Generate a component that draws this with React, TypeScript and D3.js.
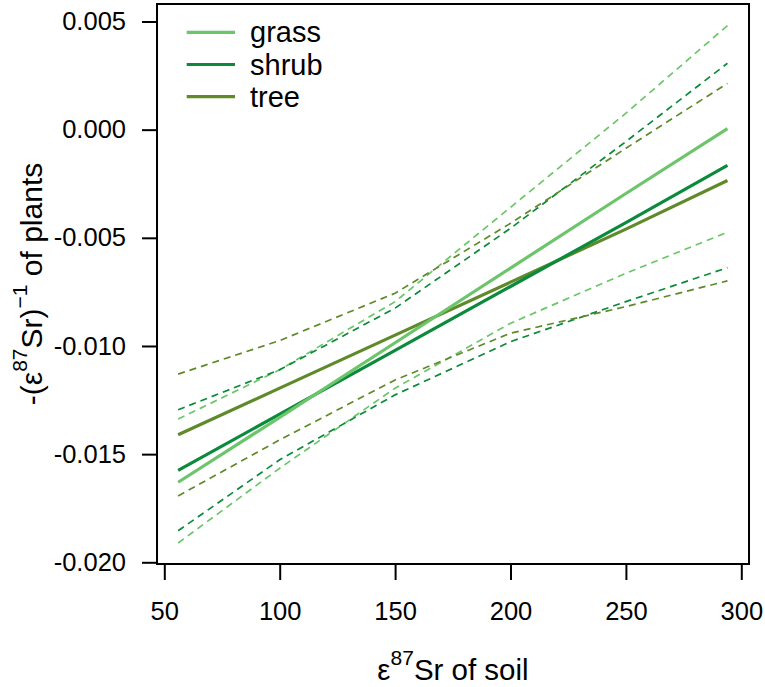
import React, { useEffect, useRef } from "react";
import * as d3 from "d3";

// soil epsilon 87Sr grid where the fitted curves were read
const soilSr = [56, 100, 150, 200, 250, 294];

// fitted -(e87Sr)^-1 of plants
const grassFit = [-0.0163, -0.0133, -0.00985, -0.0064, -0.00295, 0.00005];
const shrubFit = [-0.01575, -0.01315, -0.0102, -0.00725, -0.0043, -0.00165];
const treeFit = [-0.0141, -0.01195, -0.0095, -0.00705, -0.0046, -0.00235];

// confidence bands
const grassUpper = [-0.01338, -0.0111, -0.00795, -0.00359, 0.00076, 0.00481];
const grassLower = [-0.01911, -0.01565, -0.01195, -0.00895, -0.00664, -0.00474];
const shrubUpper = [-0.01295, -0.0111, -0.00825, -0.00456, -0.00055, 0.00307];
const shrubLower = [-0.01854, -0.01526, -0.01226, -0.0098, -0.00795, -0.00638];
const treeUpper = [-0.0113, -0.00975, -0.00756, -0.00433, -0.00086, 0.00214];
const treeLower = [-0.01693, -0.01434, -0.01157, -0.00941, -0.00818, -0.00699];

const groups = ["grass", "shrub", "tree"];
const colors = ["#6cc56a", "#0c8a3c", "#5f8a2a"];

const xTicks = [50, 100, 150, 200, 250, 300];
const yTicks = [0.005, 0, -0.005, -0.01, -0.015, -0.02];

const width = 765;
const height = 687;
const box = { left: 157, right: 749, top: 4, bottom: 564 };
const font = "'Liberation Sans', Arial, sans-serif";

const App: React.FC = () => {
  const svgRef = useRef<SVGSVGElement>(null);

  useEffect(() => {
    const svg = d3.select(svgRef.current);
    svg.selectAll("*").remove();

    const x = d3.scaleLinear().domain([50, 300]).range([164.3, 741.3]);
    const y = d3.scaleLinear().domain([-0.02, 0.005]).range([562.3, 21.5]);

    const line = d3
      .line<number>()
      .x((_, i) => x(soilSr[i]))
      .y((d) => y(d));

    const series = [
      { fit: grassFit, up: grassUpper, lo: grassLower, color: colors[0] },
      { fit: shrubFit, up: shrubUpper, lo: shrubLower, color: colors[1] },
      { fit: treeFit, up: treeUpper, lo: treeLower, color: colors[2] },
    ];

    // dashed bands
    series.forEach((s) => {
      [s.up, s.lo].forEach((band) => {
        svg
          .append("path")
          .attr("d", line(band))
          .attr("fill", "none")
          .attr("stroke", s.color)
          .attr("stroke-width", 1.7)
          .attr("stroke-dasharray", "7,5");
      });
    });

    // fitted lines
    [series[2], series[1], series[0]].forEach((s) => {
      svg
        .append("path")
        .attr("d", line(s.fit))
        .attr("fill", "none")
        .attr("stroke", s.color)
        .attr("stroke-width", 3.2);
    });

    // frame
    svg
      .append("rect")
      .attr("x", box.left)
      .attr("y", box.top)
      .attr("width", box.right - box.left)
      .attr("height", box.bottom - box.top)
      .attr("fill", "none")
      .attr("stroke", "#000")
      .attr("stroke-width", 2);

    // x axis
    const xAxis = d3
      .axisBottom(x)
      .tickValues(xTicks)
      .tickSize(16)
      .tickPadding(22)
      .tickFormat(d3.format("d"));
    svg
      .append("g")
      .attr("transform", `translate(0,${box.bottom})`)
      .call(xAxis)
      .call((g) => g.select(".domain").remove())
      .call((g) => g.selectAll("line").attr("stroke", "#000").attr("stroke-width", 2))
      .call((g) =>
        g
          .selectAll("text")
          .attr("fill", "#000")
          .style("font-family", font)
          .style("font-size", "25.5px")
      );

    // y axis
    const yAxis = d3
      .axisLeft(y)
      .tickValues(yTicks)
      .tickSize(15)
      .tickPadding(16)
      .tickFormat((d) => d3.format(".3f")(d as number).replace("−", "-"));
    svg
      .append("g")
      .attr("transform", `translate(${box.left},0)`)
      .call(yAxis)
      .call((g) => g.select(".domain").remove())
      .call((g) => g.selectAll("line").attr("stroke", "#000").attr("stroke-width", 2))
      .call((g) =>
        g
          .selectAll("text")
          .attr("fill", "#000")
          .style("font-family", font)
          .style("font-size", "25.5px")
      );

    // x title
    const xt = svg
      .append("text")
      .attr("x", (box.left + box.right) / 2)
      .attr("y", 680)
      .attr("text-anchor", "middle")
      .style("font-family", font)
      .style("font-size", "29.5px");
    xt.append("tspan").text("ε");
    xt.append("tspan").attr("dy", -15).style("font-size", "21px").text("87");
    xt.append("tspan").attr("dy", 15).text("Sr of soil");

    // y title
    const yt = svg
      .append("text")
      .attr("transform", `translate(42,${(box.top + box.bottom) / 2}) rotate(-90)`)
      .attr("text-anchor", "middle")
      .style("font-family", font)
      .style("font-size", "30px");
    yt.append("tspan").text("-(ε");
    yt.append("tspan").attr("dy", -15).style("font-size", "21px").text("87");
    yt.append("tspan").attr("dy", 15).text("Sr)");
    yt.append("tspan").attr("dy", -15).style("font-size", "21px").text("−1");
    yt.append("tspan").attr("dy", 15).text(" of plants");

    // legend
    const legend = svg.append("g");
    groups.forEach((g, i) => {
      const ly = 32.3 + i * 32.2;
      legend
        .append("line")
        .attr("x1", 186.7)
        .attr("x2", 235)
        .attr("y1", ly)
        .attr("y2", ly)
        .attr("stroke", colors[i])
        .attr("stroke-width", 3.2);
      legend
        .append("text")
        .attr("x", 250)
        .attr("y", ly)
        .attr("dy", "0.35em")
        .style("font-family", font)
        .style("font-size", "29px")
        .text(g);
    });
  }, []);

  return (
    <>
      <style>{`body{margin:0}`}</style>
      <svg ref={svgRef} width={width} height={height} style={{ display: "block", background: "#fff" }} />
    </>
  );
};

export default App;
